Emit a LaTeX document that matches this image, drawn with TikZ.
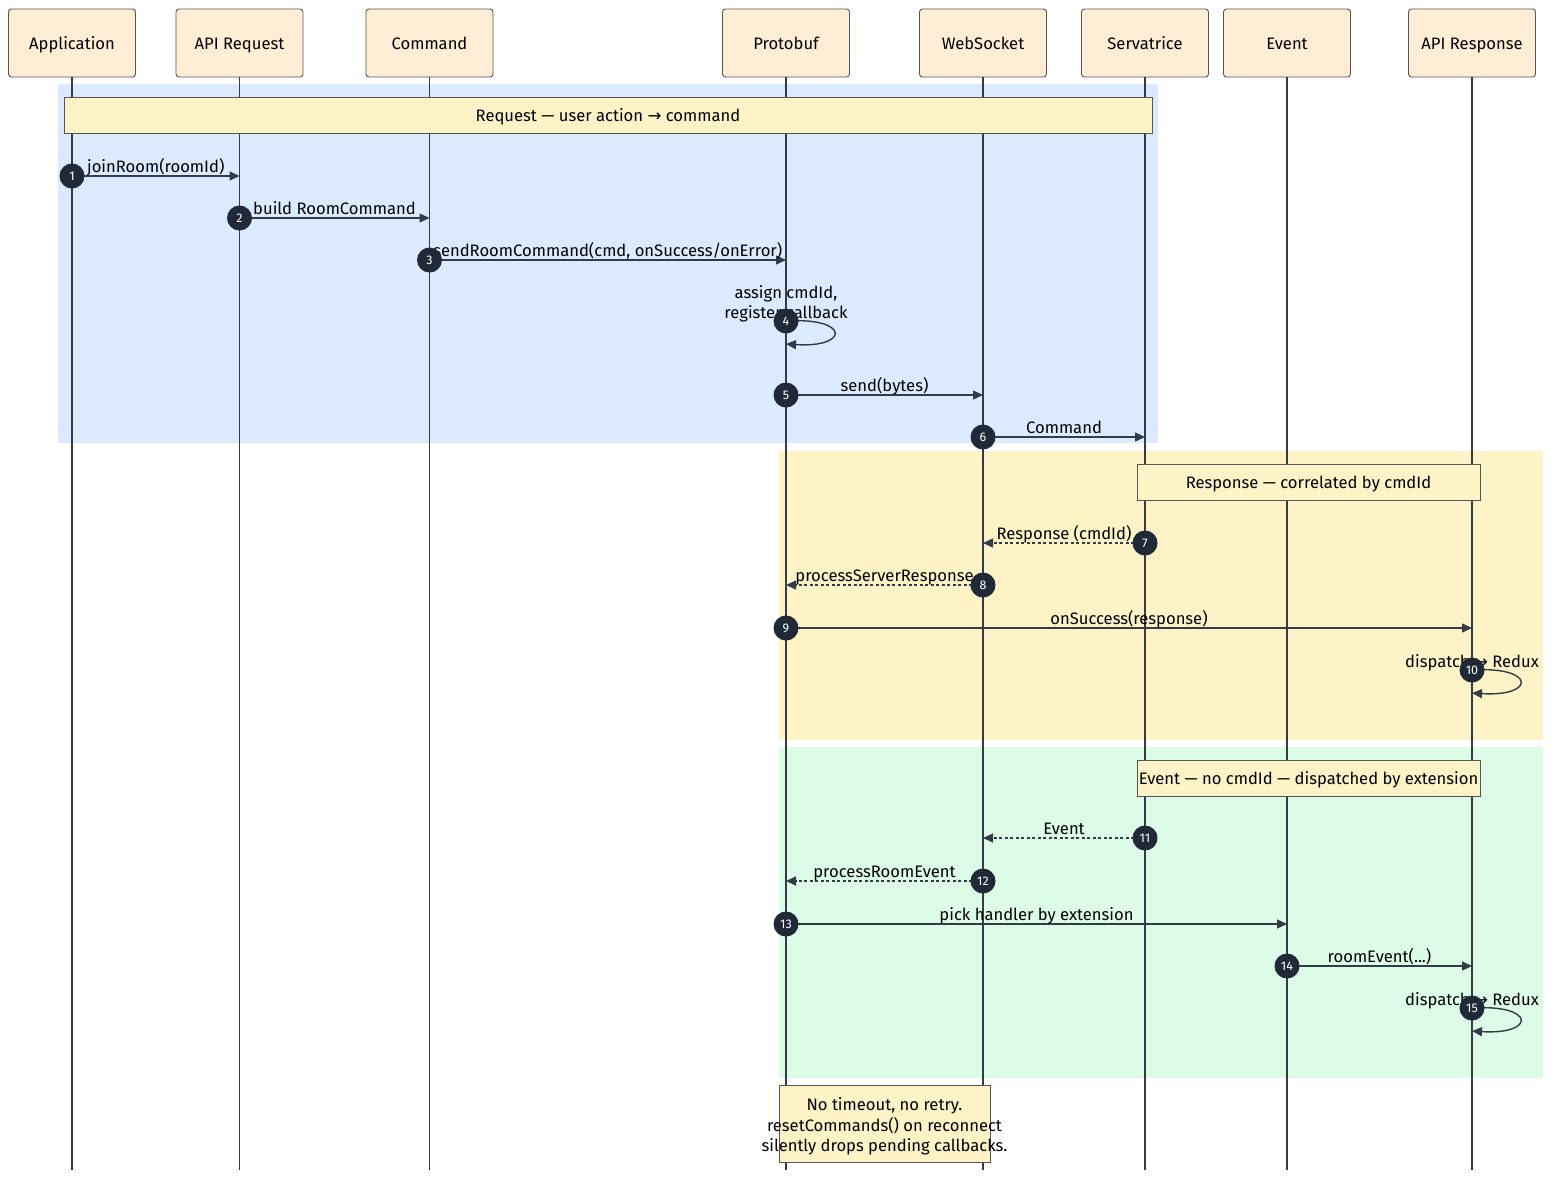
\documentclass[tikz,border=0pt]{standalone}
\usepackage{fontspec}
\setmainfont{Fira Sans}
\newfontfamily\arrowfont{DejaVu Sans}
\usepackage{tikz}
\usetikzlibrary{arrows.meta}
\definecolor{sactor}{HTML}{FFEDD5}
\definecolor{sedge}{HTML}{555555}
\definecolor{sline}{HTML}{333B47}
\definecolor{sdot}{HTML}{1F2937}
\definecolor{snote}{HTML}{FEF3C7}
\definecolor{zblue}{HTML}{DBEAFE}
\definecolor{zyellow}{HTML}{FEF3C7}
\definecolor{zgreen}{HTML}{DCFCE7}
\newcommand{\toarrow}{{\arrowfont →}}
\newcommand{\seqmsg}[6]{% id, from, to, y, line style, label
  \coordinate (s#1) at (#2 |- 0,#4);
  \draw[call, #5] (s#1) -- (#3 |- s#1) node[lbl, midway] {#6};
  \node[seqnum] (n#1) at (s#1) {#1};}
\newcommand{\seqself}[4]{% id, actor, y, label
  \coordinate (s#1) at (#2 |- 0,#3);
  \coordinate (e#1) at (#2 |- 0,{#3+23});
  \draw[call] (s#1) .. controls +(64,-4) and +(64,4) .. (e#1);
  \node[lbl, align=center] at (s#1) {#4};
  \node[seqnum] (n#1) at (s#1) {#1};}
\tikzset{
  actor/.style={draw=sedge, fill=sactor, line width=0.9pt, rounded corners=3pt,
                minimum width=127pt, minimum height=68pt, inner sep=0pt,
                text height=15pt, text depth=2.5pt},
  lifeline/.style={draw=sline, line width=1.8pt},
  note/.style={draw=sedge, fill=snote, line width=0.9pt, inner sep=0pt,
               text height=15.5pt, text depth=2pt},
  call/.style={draw=sline, line width=1.4pt, -{Triangle[length=10pt, width=9pt]}},
  reply/.style={dash pattern=on 3pt off 2.5pt},
  lbl/.style={anchor=south, yshift=2.5pt, inner sep=0pt, text depth=0pt, text=black},
  seqnum/.style={circle, fill=sdot, text=white, minimum size=25pt, inner sep=0pt,
                 font=\fontsize{12.5}{12.5}\selectfont},
}

\begin{document}
\begin{tikzpicture}[x=1pt, y=-1pt, font=\fontsize{16.6}{20.5}\selectfont]
    \useasboundingbox (0,0) rectangle (1568,1184);

    % --- coloured phases ----------------------------------------------
    \fill[zblue]   (58,84)   rectangle (1158,443);
    \fill[zyellow] (779,451) rectangle (1543,740);
    \fill[zgreen]  (779,747) rectangle (1543,1078);

    % --- participants --------------------------------------------------
    \node[actor] (app)     at (72,43)    {Application};
    \node[actor] (apireq)  at (239.5,43) {API Request};
    \node[actor] (cmd)     at (429.5,43) {Command};
    \node[actor] (proto)   at (786,43)   {Protobuf};
    \node[actor] (ws)      at (983,43)   {WebSocket};
    \node[actor] (serv)    at (1145,43)  {Servatrice};
    \node[actor] (evt)     at (1287,43)  {Event};
    \node[actor] (apiresp) at (1472,43)  {API Response};
    \coordinate (bottom) at (0,1170);
    \foreach \p in {app,apireq,cmd,proto,ws,serv,evt,apiresp}
      \draw[lifeline] (\p.south) -- (\p |- bottom);

    % --- phase notes ---------------------------------------------------
    \node[note, minimum width=1088pt, minimum height=36pt] (reqnote) at (608,115)
      {Request — user action \toarrow\ command};
    \node[note, minimum width=343pt, minimum height=36pt] (respnote) at (1308.5,482)
      {Response — correlated by cmdId};
    \node[note, minimum width=343pt, minimum height=36pt] (evtnote) at (1308.5,778)
      {Event — no cmdId — dispatched by extension};

    % --- request -------------------------------------------------------
    \seqmsg{1}{app}{apireq}{176}{}{joinRoom(roomId)}
    \seqmsg{2}{apireq}{cmd}{218}{}{build RoomCommand}
    \seqmsg{3}{cmd}{proto}{260}{}{sendRoomCommand(cmd, onSuccess/onError)}
    \seqself{4}{proto}{321}{assign cmdId,\\[-0.5pt]register callback}
    \seqmsg{5}{proto}{ws}{395}{}{send(bytes)}
    \seqmsg{6}{ws}{serv}{437}{}{Command}

    % --- response ------------------------------------------------------
    \seqmsg{7}{serv}{ws}{543}{reply}{Response (cmdId)}
    \seqmsg{8}{ws}{proto}{585}{reply}{processServerResponse}
    \seqmsg{9}{proto}{apiresp}{628}{}{onSuccess(response)}
    \seqself{10}{apiresp}{670}{dispatch \toarrow\ Redux}

    % --- event ---------------------------------------------------------
    \seqmsg{11}{serv}{ws}{838}{reply}{Event}
    \seqmsg{12}{ws}{proto}{881}{reply}{processRoomEvent}
    \seqmsg{13}{proto}{evt}{924}{}{pick handler by extension}
    \seqmsg{14}{evt}{apiresp}{966}{}{roomEvent(...)}
    \seqself{15}{apiresp}{1008}{dispatch \toarrow\ Redux}

    % --- caveat --------------------------------------------------------
    \node[note, minimum width=211pt, minimum height=77pt, text height=, text depth=] (caveat) at (884.5,1123.5) {};
    \node[align=center, inner sep=0pt] at ([yshift=-3pt]caveat.center)
      {No timeout, no retry.\\resetCommands() on reconnect\\silently drops pending callbacks.};
  \end{tikzpicture}
\end{document}
